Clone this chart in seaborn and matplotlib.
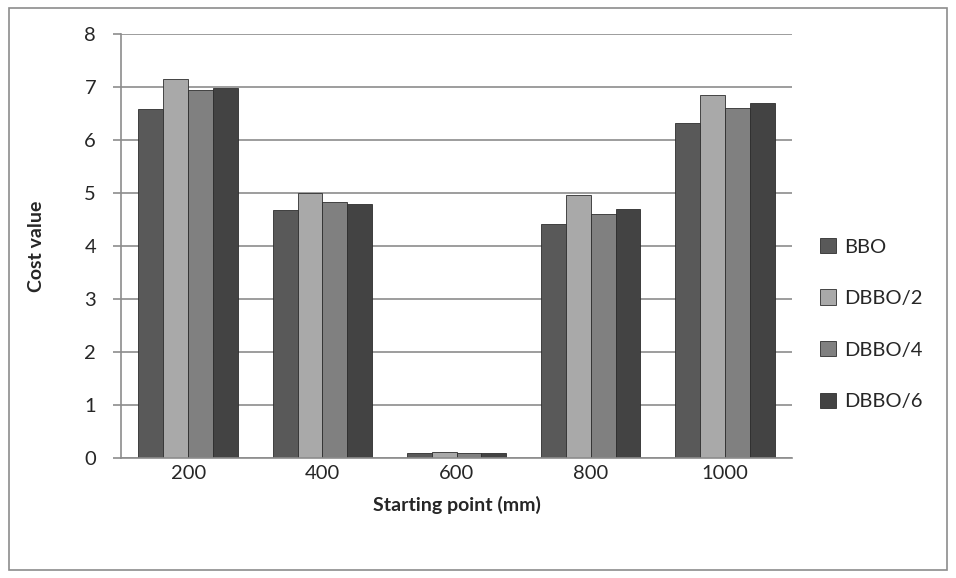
import matplotlib.pyplot as plt
import matplotlib.patches as mpatches
import pandas as pd
import seaborn as sns

starts = ["200", "400", "600", "800", "1000"]
methods = ["BBO", "DBBO/2", "DBBO/4", "DBBO/6"]
bbo = [6.58, 4.68, 0.10, 4.42, 6.32]
dbbo2 = [7.15, 5.00, 0.12, 4.96, 6.86]
dbbo4 = [6.94, 4.84, 0.10, 4.60, 6.60]
dbbo6 = [6.98, 4.79, 0.10, 4.70, 6.70]
colors = ["#595959", "#a9a9a9", "#808080", "#434343"]

rows = []
for name, vals in zip(methods, [bbo, dbbo2, dbbo4, dbbo6]):
    for s, v in zip(starts, vals):
        rows.append({"start": s, "method": name, "cost": v})
df = pd.DataFrame(rows)

sns.set_style("white")
plt.rcParams["font.family"] = ["Lato", "DejaVu Sans"]

fig = plt.figure(figsize=(9.56, 5.78), dpi=100)
ax = fig.add_axes([0.1266, 0.2076, 0.8285 - 0.1266, 0.941 - 0.2076])

sns.barplot(
    data=df,
    x="start",
    y="cost",
    hue="method",
    order=starts,
    hue_order=methods,
    palette=colors,
    width=0.74,
    edgecolor="#2e2e2e",
    linewidth=0.6,
    ax=ax,
    legend=True,
)

ax.set_ylim(0, 8)
ax.set_xlim(-0.5, len(starts) - 0.5)
ax.set_yticks(range(0, 9))
ax.yaxis.grid(True, color="#8c8c8c", linewidth=1.2)
ax.set_axisbelow(True)
ax.set_xticks([i - 0.5 for i in range(len(starts) + 1)], minor=True)
ax.set_xticks(range(len(starts)))
ax.set_xticklabels(starts)
ax.tick_params(axis="x", which="major", length=0, pad=5, labelsize=14.5)
ax.tick_params(axis="x", which="minor", length=7, color="#8c8c8c", width=1.2, direction="out")
ax.tick_params(axis="y", length=6, color="#8c8c8c", width=1.2, direction="out", pad=12, labelsize=14.5)
ax.tick_params(bottom=True, left=True)
ax.tick_params(axis="x", which="major", bottom=False)

for side in ["top", "right"]:
    ax.spines[side].set_visible(False)
for side in ["left", "bottom"]:
    ax.spines[side].set_color("#8c8c8c")
    ax.spines[side].set_linewidth(1.2)

ax.set_xlabel("Starting point (mm)", fontsize=14, fontweight="bold", labelpad=10)
ax.set_ylabel("Cost value", fontsize=14, fontweight="bold", labelpad=28)

handles = [mpatches.Patch(facecolor=c, edgecolor="#2e2e2e", linewidth=0.6) for c in colors]
ax.legend(
    handles,
    methods,
    loc="center left",
    bbox_to_anchor=(1.015, 0.316),
    frameon=False,
    fontsize=14.5,
    handlelength=0.8,
    handleheight=0.8,
    handletextpad=0.4,
    labelspacing=1.68,
)

fig.patches.append(
    mpatches.Rectangle(
        (0.009, 0.014), 0.982, 0.972,
        transform=fig.transFigure, fill=False, edgecolor="#8c8c8c", linewidth=1.2,
    )
)

fig.savefig("out.png", dpi=100)
